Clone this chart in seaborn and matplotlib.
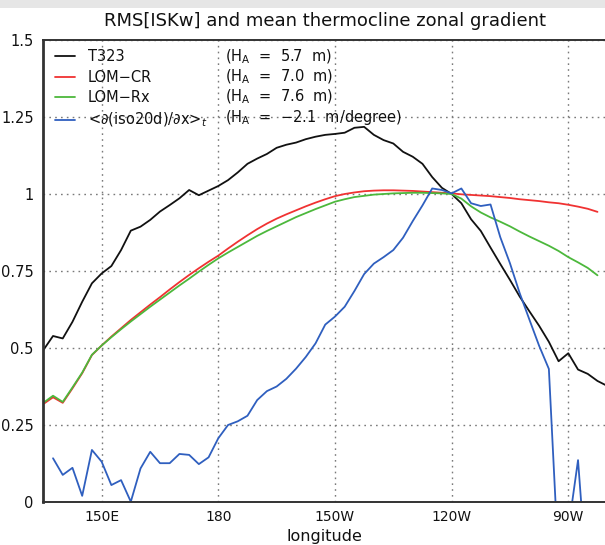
import numpy as np
import pandas as pd
import matplotlib
matplotlib.use("Agg")
import matplotlib.pyplot as plt
import seaborn as sns
from matplotlib.patches import Rectangle

# ---------------- data ----------------
lon = np.arange(135.0, 280.01, 2.5)          # longitude grid (deg E), 59 points

t323 = [0.493, 0.539, 0.531, 0.585, 0.650, 0.710, 0.742, 0.766, 0.818, 0.881,
        0.894, 0.916, 0.943, 0.964, 0.986, 1.013, 0.996, 1.011, 1.026, 1.045,
        1.070, 1.098, 1.115, 1.130, 1.150, 1.160, 1.167, 1.178, 1.186, 1.192,
        1.195, 1.199, 1.215, 1.218, 1.192, 1.175, 1.164, 1.137, 1.121, 1.098,
        1.055, 1.020, 1.000, 0.970, 0.918, 0.880, 0.826, 0.773, 0.721, 0.667,
        0.619, 0.572, 0.520, 0.457, 0.483, 0.430, 0.416, 0.393, 0.377]

lom_cr = [0.318, 0.340, 0.322, 0.369, 0.418, 0.477, 0.508, 0.537, 0.564, 0.591,
          0.616, 0.641, 0.665, 0.690, 0.714, 0.737, 0.759, 0.780, 0.800, 0.823,
          0.845, 0.866, 0.886, 0.904, 0.920, 0.934, 0.947, 0.960, 0.972, 0.983,
          0.993, 1.000, 1.005, 1.009, 1.011, 1.012, 1.012, 1.011, 1.010, 1.008,
          1.006, 1.004, 1.002, 0.999, 0.997, 0.995, 0.993, 0.990, 0.987, 0.983,
          0.980, 0.977, 0.973, 0.970, 0.965, 0.959, 0.952, 0.942]

lom_rx = [0.322, 0.345, 0.325, 0.372, 0.420, 0.478, 0.508, 0.535, 0.561, 0.586,
          0.610, 0.634, 0.657, 0.680, 0.703, 0.725, 0.748, 0.770, 0.791, 0.810,
          0.828, 0.846, 0.864, 0.880, 0.895, 0.910, 0.925, 0.938, 0.951, 0.963,
          0.975, 0.983, 0.990, 0.994, 0.998, 1.000, 1.002, 1.003, 1.004, 1.004,
          1.003, 1.002, 1.000, 0.985, 0.960, 0.940, 0.924, 0.910, 0.895, 0.878,
          0.862, 0.847, 0.832, 0.815, 0.795, 0.778, 0.760, 0.736]

diso = [0.142, 0.088, 0.111, 0.020, 0.169, 0.131, 0.055, 0.071, 0.001, 0.109,
        0.163, 0.126, 0.126, 0.156, 0.153, 0.123, 0.145, 0.207, 0.250, 0.262,
        0.280, 0.331, 0.360, 0.375, 0.400, 0.433, 0.471, 0.515, 0.576, 0.602,
        0.634, 0.685, 0.740, 0.774, 0.795, 0.818, 0.858, 0.912, 0.963, 1.018,
        1.013, 1.002, 1.018, 0.970, 0.961, 0.966, 0.860, 0.775, 0.678, 0.592,
        0.507, 0.432, -0.200, -0.090, 0.136, -0.290]

names = ["T323", "LOM\u2212CR", "LOM\u2212Rx", "<\u2202(iso20d)/\u2202x>$_t$"]
ha_labels = [r"(H$_\mathrm{A}$  =  5.7  m)",
             r"(H$_\mathrm{A}$  =  7.0  m)",
             r"(H$_\mathrm{A}$  =  7.6  m)",
             r"(H$_\mathrm{A}$  =  $-$2.1  m/degree)"]
colors = ["#111111", "#f03232", "#4cb83c", "#2f5fbf"]

xtick_pos = [150, 180, 210, 240, 270]
xtick_lab = ["150E", "180", "150W", "120W", "90W"]
ytick_pos = [0, 0.25, 0.5, 0.75, 1.0, 1.25, 1.5]
ytick_lab = ["0", "0.25", "0.5", "0.75", "1", "1.25", "1.5"]

title = "RMS[ISKw] and mean thermocline zonal gradient"

# ---------------- figure ----------------
sns.set_theme(style="white")
plt.rcParams['font.family'] = ['DejaVu Sans']

W, H = 605, 545
fig = plt.figure(figsize=(W / 100, H / 100), dpi=100)
fig.patches.append(Rectangle((0, 1 - 8 / H), 1, 8 / H, transform=fig.transFigure,
                             facecolor="#e6e6e6", edgecolor="none", zorder=-5))

ax_left, ax_right, ax_top, ax_bot = 43.3, 607.2, 40, 502
ax = fig.add_axes([ax_left / W, (H - ax_bot) / H, (ax_right - ax_left) / W, (ax_bot - ax_top) / H])

series = [(lon, t323), (lon[:len(lom_cr)], lom_cr), (lon[:len(lom_rx)], lom_rx),
          (lon[1:1 + len(diso)], diso)]
for (xx, yy), nm, c in zip(series, names, colors):
    df = pd.DataFrame({"lon": xx, "val": yy})
    sns.lineplot(data=df, x="lon", y="val", ax=ax, color=c, lw=1.3, label=nm,
                 sort=False, estimator=None)

ax.set_xlim(135, 280)
ax.set_ylim(0, 1.5)
ax.set_xticks(xtick_pos)
ax.set_xticklabels(xtick_lab)
ax.set_yticks(ytick_pos)
ax.set_yticklabels(ytick_lab)
ax.set_xlabel("")
ax.set_ylabel("")

ax.set_axisbelow(True)
ax.grid(True, color="#7a7a7a", linestyle=(0, (1.2, 3.0)), lw=1.0)
for s in ["top", "bottom"]:
    ax.spines[s].set_color("#333333")
    ax.spines[s].set_linewidth(1.4)
ax.spines["left"].set_color("#333333")
ax.spines["left"].set_linewidth(2.0)
ax.spines["right"].set_visible(False)
ax.tick_params(axis="both", direction="out", length=4, width=1, color="#333333",
               labelsize=10.5, pad=3, labelcolor="#111111")
ax.tick_params(axis="x", pad=2, labelsize=10)

# legend
handles = ax.get_lines()[:4]
leg = ax.legend(handles, names, loc="upper left",
                bbox_to_anchor=(55 / W, 1 - 49.4 / H), bbox_transform=fig.transFigure,
                frameon=False, borderpad=0, borderaxespad=0, fontsize=10.5,
                handlelength=1.37, handletextpad=0.9, labelspacing=0.38)
for t in leg.get_texts():
    t.set_color("#111111")

row_y = [56.7, 76.7, 96.7, 117.3]
for ry, lab in zip(row_y, ha_labels):
    fig.text(225 / W, 1 - ry / H, lab, ha="left", va="center", fontsize=10.5, color="#111111")

fig.text(325 / W, 1 - 21 / H, title, ha="center", va="center", fontsize=13, color="#111111")
fig.text(324 / W, 1 - 537 / H, "longitude", ha="center", va="center", fontsize=11.5, color="#111111")

fig.savefig("out.png", dpi=100)
